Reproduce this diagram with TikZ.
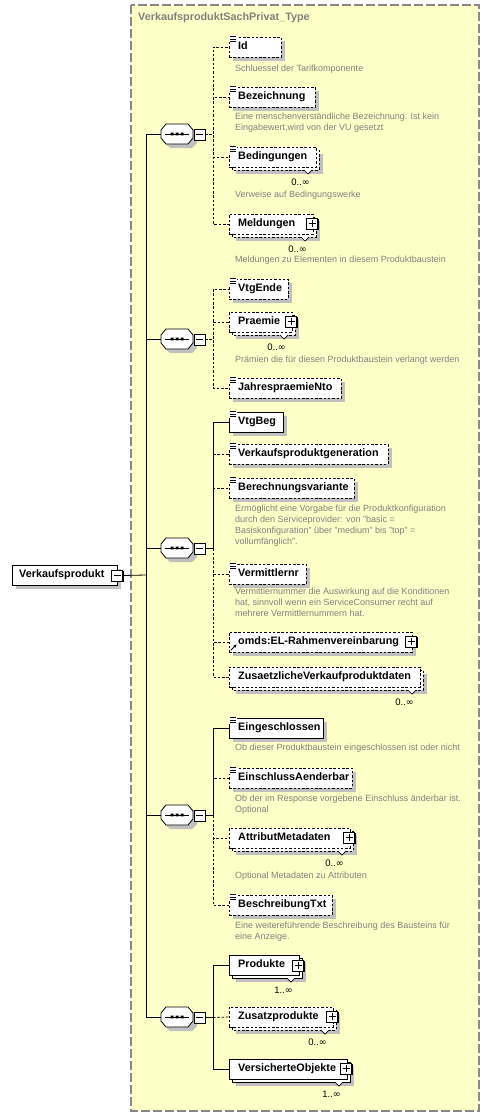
\documentclass[tikz,border=0pt]{standalone}
\usepackage{fontspec}
\setmainfont{Liberation Sans}
\newfontfamily\symfont{DejaVu Sans}
\usetikzlibrary{arrows.meta}
\definecolor{bgyellow}{HTML}{FFFFC8}
\definecolor{frameg}{HTML}{888888}
\definecolor{shadowc}{HTML}{C0C0C0}
\definecolor{descg}{HTML}{808080}
\newcommand{\infsym}{{\symfont ∞}}
\tikzset{
 conn/.style={line width=0.8pt, draw=black},
 opt/.style={dash pattern=on 2.5pt off 1.8pt},
 ebox/.style={draw=black, fill=white, line width=0.8pt, minimum height=20pt, inner sep=0pt, outer sep=0pt, anchor=north west},
 etext/.style={font=\fontsize{10.8}{13}\selectfont\bfseries, inner sep=0pt, text height=7.6pt, text depth=2.2pt, anchor=west},
 desc/.style={font=\fontsize{9}{11}\selectfont, text=descg, align=left, inner sep=0pt, anchor=north west},
 mult/.style={font=\fontsize{9.5}{11}\selectfont, inner sep=0pt, anchor=east},
 sqbox/.style={draw=black, fill=white, line width=0.7pt, minimum size=11pt, inner sep=0pt, outer sep=0pt},
 seqnode/.style={draw=none, minimum width=32pt, minimum height=20pt, inner sep=0pt, outer sep=0pt},
}
\newcommand{\PlusBox}[3]{%
 \fill[black] ({#2-4.3},{#3-4.3}) rectangle ({#2+6.7},{#3+6.7});
 \node[sqbox] (#1) at (#2,#3) {};
 \draw[line width=0.8pt] ({#2-3.5},#3) -- ({#2+3.5},#3) (#2,{#3-3.5}) -- (#2,{#3+3.5});
}
\newcommand{\MinusBox}[3]{%
 \fill[black] ({#2-4.3},{#3-4.3}) rectangle ({#2+6.7},{#3+6.7});
 \node[sqbox] (#1) at (#2,#3) {};
 \draw[line width=0.8pt] ({#2-3.5},#3) -- ({#2+3.5},#3);
}
\newcommand{\IconLines}[2]{%
 \fill[white] ({#1-0.5},{#2-1.5}) rectangle ({#1+8},{#2+5.5});
 \draw[line width=0.6pt] ({#1+1},{#2-0.5}) -- ++(6,0) ({#1+1},{#2+2}) -- ++(6,0) ({#1+1},{#2+4.5}) -- ++(6,0);
}
\newcommand{\Elem}[6]{%
 \fill[shadowc] ({#2+4},{#3+4}) rectangle ({#4+4},{#3+24});
 \node[ebox,#5,minimum width={#4-#2}] (#1) at (#2,#3) {};
 \node[etext] at ([xshift=9pt]#1.west) {#6};
}
\newcommand{\MElem}[7]{%
 \fill[shadowc] ({#2+7},{#3+7}) rectangle ({#4+7},{#3+27});
 \draw[line width=0.8pt, fill=white, #5] ({#2+3},{#3+3}) rectangle ({#4+3},{#3+23});
 \node[ebox,#5,minimum width={#4-#2}] (#1) at (#2,#3) {};
 \node[etext] at ([xshift=9pt]#1.west) {#6};
 \draw[line width=0.7pt, fill=white] ({#4-12},{#3+23}) -- ({#4-8},{#3+27}) -- ({#4-4},{#3+23});
 \node[mult] at ({#4-6},{#3+35}) {#7};
}
\newcommand{\SeqSym}[2]{%
 \begin{scope}[shift={(177,#2)}]
  \fill[shadowc] (-12,-1) -- (-7,-6) -- (15,-6) -- (20,-1) -- (20,9) -- (15,14) -- (-7,14) -- (-12,9) -- cycle;
  \node[seqnode] (s#1) at (0,0) {};
  \draw[fill=white, line width=0.8pt] (-16,-4) -- (-11,-10) -- (11,-10) -- (16,-4) -- (16,4) -- (11,10) -- (-11,10) -- (-16,4) -- cycle;
  \draw[line width=0.8pt] (-12,0) -- (12,0);
  \fill (-6.5,-1.4) rectangle (-3.5,1.4) (-1.5,-1.4) rectangle (1.5,1.4) (3.5,-1.4) rectangle (6.5,1.4);
  \MinusBox{m#1}{22.5}{0.5}
 \end{scope}
}
\begin{document}
\begin{tikzpicture}[x=1pt,y=-1pt]
\useasboundingbox (0,0) rectangle (490,1116);
\fill[white] (0,0) rectangle (490,1116);
% type frame
\draw[fill=bgyellow, draw=frameg, line width=1.1pt, dash pattern=on 9pt off 3pt] (131,5) rectangle (479,1111);
\node[font=\fontsize{10.8}{13}\selectfont\bfseries, text=descg, anchor=west, inner sep=0pt] (title) at (138,18) {VerkaufsproduktSachPrivat\_Type};

% root
\fill[shadowc] (16,569) rectangle (121,589);
\node[ebox, minimum width=105pt] (root) at (12,565) {};
\node[etext] at ([xshift=7pt]root.west) {Verkaufsprodukt};
\MinusBox{rm}{117}{575.5}

% sequences
\SeqSym{1}{134}
\SeqSym{2}{339}
\SeqSym{3}{548}
\SeqSym{4}{815}
\SeqSym{5}{1017}

% group 1
\Elem{Id}{229}{37}{281}{opt}{Id}
\IconLines{229}{37}
\node[desc] (dId) at (235,65) {Schluessel der Tarifkomponente};
\Elem{Bez}{229}{87}{315}{opt}{Bezeichnung}
\IconLines{229}{87}
\node[desc] (dBez) at (235,113) {Eine menschenverständliche Bezeichnung. Ist kein\\Eingabewert,wird von der VU gesetzt};
\MElem{Bed}{229}{147}{316}{opt}{Bedingungen}{0..\infsym}
\IconLines{229}{147}
\node[desc] (dBed) at (235,191) {Verweise auf Bedingungswerke};
\MElem{Meld}{229}{214}{313}{opt}{Meldungen}{0..\infsym}
\PlusBox{pMeld}{312}{223.5}
\node[desc] (dMeld) at (235,256) {Meldungen zu Elementen in diesem Produktbaustein};

% group 2
\Elem{VtgEnde}{229}{279}{288}{opt}{VtgEnde}
\IconLines{229}{279}
\MElem{Praemie}{229}{312}{292}{opt}{Praemie}{0..\infsym}
\PlusBox{pPraemie}{291}{321.5}
\node[desc] (dPraemie) at (235,356) {Prämien die für diesen Produktbaustein verlangt werden};
\Elem{Jahres}{229}{378}{341}{opt}{JahrespraemieNto}
\IconLines{229}{378}

% group 3
\Elem{VtgBeg}{229}{412}{283}{solid}{VtgBeg}
\IconLines{229}{412}
\Elem{VPG}{229}{444}{388}{opt}{Verkaufsproduktgeneration}
\IconLines{229}{444}
\Elem{BerV}{229}{478}{354}{opt}{Berechnungsvariante}
\IconLines{229}{478}
\node[desc] (dBerV) at (235,505) {Ermöglicht eine Vorgabe für die Produktkonfiguration\\durch den Serviceprovider: von "basic =\\Basiskonfiguration" über "medium" bis "top" =\\vollumfänglich".};
\Elem{Verm}{229}{564}{306}{opt}{Vermittlernr}
\IconLines{229}{564}
\node[desc] (dVerm) at (235,588) {Vermittlernummer die Auswirkung auf die Konditionen\\hat, sinnvoll wenn ein ServiceConsumer recht auf\\mehrere Vermittlernummern hat.};
\Elem{omds}{229}{632}{412}{opt}{omds:EL-Rahmenvereinbarung}
\PlusBox{pomds}{411}{641.5}
\draw[line width=0.9pt, -{Stealth[length=3pt,width=3.2pt]}] (231,650) -- (236.5,644.5);
\MElem{ZVD}{229}{667}{420}{opt}{ZusaetzlicheVerkaufproduktdaten}{0..\infsym}

% group 4
\Elem{Eing}{229}{718}{323}{solid}{Eingeschlossen}
\IconLines{229}{718}
\node[desc] (dEing) at (235,744) {Ob dieser Produktbaustein eingeschlossen ist oder nicht};
\Elem{EinA}{229}{768}{352}{opt}{EinschlussAenderbar}
\IconLines{229}{768}
\node[desc] (dEinA) at (235,795) {Ob der im Response vorgebene Einschluss änderbar ist.\\Optional};
\MElem{AttM}{229}{828}{350}{opt}{AttributMetadaten}{0..\infsym}
\PlusBox{pAttM}{349}{837.5}
\node[desc] (dAttM) at (235,872) {Optional Metadaten zu Attributen};
\Elem{BeschT}{229}{895}{332}{opt}{BeschreibungTxt}
\IconLines{229}{895}
\node[desc] (dBeschT) at (235,922) {Eine weitereführende Beschreibung des Bausteins für\\eine Anzeige.};

% group 5
\MElem{Prod}{229}{955}{299}{solid}{Produkte}{1..\infsym}
\PlusBox{pProd}{298}{965.5}
\MElem{Zus}{229}{1007}{333}{opt}{Zusatzprodukte}{0..\infsym}
\PlusBox{pZus}{332}{1016.5}
\MElem{VersO}{229}{1059}{347}{solid}{VersicherteObjekte}{1..\infsym}
\PlusBox{pVersO}{346}{1068.5}

% connectors: trunk
\coordinate (trunk) at (146,575);
\draw[conn] (rm.east) -- (trunk);
\foreach \i in {1,...,5} {\draw[conn] (s\i.west) -| (trunk);}

% group connectors
\foreach \n in {Id,Bez,Bed,Meld} {\draw[conn,opt] (m1.east) -- ++(8,0) |- (\n.west);}
\foreach \n in {VtgEnde,Praemie,Jahres} {\draw[conn,opt] (m2.east) -- ++(8,0) |- (\n.west);}
\draw[conn] (m3.east) -- ++(8,0) |- (VtgBeg.west);
\foreach \n in {VPG,BerV,Verm,omds,ZVD} {\draw[conn,opt] (m3.east) ++(8,0) |- (\n.west);}
\draw[conn] (m4.east) -- ++(8,0) |- (Eing.west);
\foreach \n in {EinA,AttM,BeschT} {\draw[conn,opt] (m4.east) ++(8,0) |- (\n.west);}
\draw[conn] (m5.east) -- ++(8,0) |- (Prod.west);
\draw[conn] (m5.east) -- ++(8,0) |- (VersO.west);
\draw[conn,opt] (m5.east) ++(8,0) -- (Zus.west);
\end{tikzpicture}
\end{document}
